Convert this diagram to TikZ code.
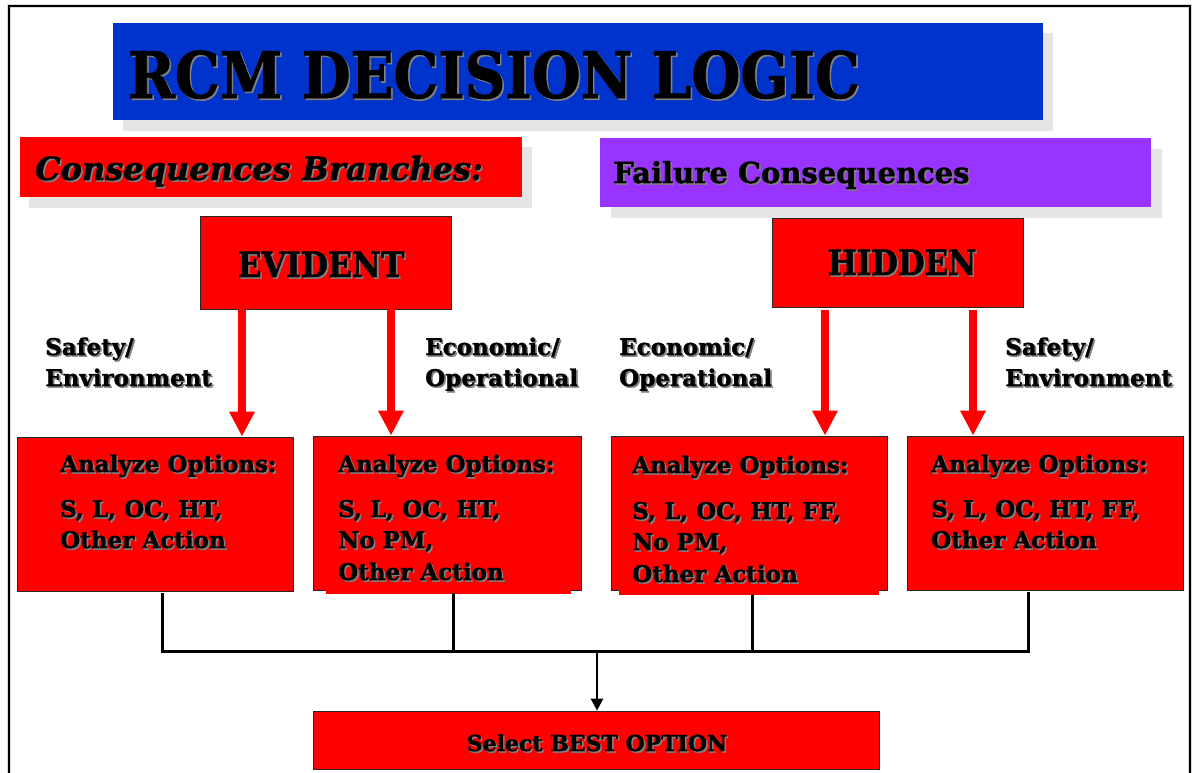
\documentclass[tikz,border=0pt]{standalone}
\usepackage{fontspec}
\setmainfont{DejaVu Serif}[BoldFeatures={FakeBold=1.3},BoldItalicFeatures={FakeBold=1.3}]
\usetikzlibrary{arrows.meta,calc}

\definecolor{titleblue}{RGB}{0,51,204}
\definecolor{boxred}{RGB}{255,0,0}
\definecolor{failpurple}{RGB}{153,51,255}
\definecolor{dropgray}{RGB}{229,229,229}

\tikzset{
  txt/.style={inner sep=0pt, anchor=base west, font=\bfseries\fontsize{23}{27}\selectfont},
  banner/.style={inner sep=0pt, draw=none},
  redbox/.style={draw=black!85, line width=0.8pt, fill=boxred, inner sep=0pt},
  redarrow/.style={draw=boxred, line width=8pt, -{Triangle[width=24pt,length=25pt]}},
  conn/.style={draw=black, line width=3pt},
  connarrow/.style={draw=black, line width=2.5pt, -{Triangle[width=12pt,length=12pt]}},
}

% text with a soft drop shadow: name, options, position, text
\newcommand\shtext[4]{%
  \node[#2, text=black!50, xshift=1.6pt, yshift=-1.6pt] (#1-shade) at (#3) {#4};
  \node[#2] (#1) at (#3) {#4};%
}

\begin{document}
\begin{tikzpicture}[x=1pt, y=-1pt]
  \useasboundingbox (0,0) rectangle (1193,772);
  \begin{scope}
    \clip (0,0) rectangle (1193,772);
    % page frame
    \draw[black!15, line width=4pt] (9,6) rectangle (1190,800);
    \draw[black, line width=2pt] (9,6) rectangle (1190,800);

    % title banner
    \fill[dropgray] (123,33) rectangle (1053,131);
    \node[banner, fill=titleblue, minimum width=930pt, minimum height=97pt] (title) at (578,71.5) {};
    \shtext{titletext}{txt, font=\bfseries\fontsize{64}{70}\selectfont}{128,98}{\scalebox{0.88}[1]{RCM DECISION LOGIC}}

    % section banners
    \fill[dropgray] (29,147) rectangle (532,208);
    \node[banner, fill=boxred, minimum width=502pt, minimum height=60pt] (branches) at (271,167) {};
    \shtext{branchestext}{txt, font=\bfseries\itshape\fontsize{32}{36}\selectfont}{35,180}{Consequences Branches:}

    \fill[dropgray] (611,149) rectangle (1162,218);
    \node[banner, fill=failpurple, minimum width=551pt, minimum height=69pt] (failure) at (875.5,172.5) {};
    \shtext{failuretext}{txt, font=\bfseries\fontsize{29}{33}\selectfont}{613,183}{Failure Consequences}

    % branch boxes
    \node[redbox, minimum width=251pt, minimum height=93pt] (ev) at (325.5,262.5) {};
    \shtext{evtext}{txt, anchor=base, font=\bfseries\fontsize{35}{39}\selectfont}{321,277}{\scalebox{0.9}[1]{EVIDENT}}
    \node[redbox, minimum width=251pt, minimum height=89pt] (hid) at (897.5,262.5) {};
    \shtext{hidtext}{txt, anchor=base, font=\bfseries\fontsize{35}{39}\selectfont}{902,275}{\scalebox{0.88}[1]{HIDDEN}}

    % consequence labels
    \shtext{l1a}{txt}{45,355}{Safety/}
    \shtext{l1b}{txt}{45,386}{Environment}
    \shtext{l2a}{txt}{425,355}{Economic/}
    \shtext{l2b}{txt}{425,386}{Operational}
    \shtext{l3a}{txt}{619,355}{Economic/}
    \shtext{l3b}{txt}{619,386}{Operational}
    \shtext{l4a}{txt}{1005,355}{Safety/}
    \shtext{l4b}{txt}{1005,386}{Environment}

    % option boxes
    \node[redbox, minimum width=276pt, minimum height=154pt] (b1) at (155,514) {};
    \node[redbox, minimum width=268pt, minimum height=154pt] (b2) at (447,513) {};
    \node[redbox, minimum width=276pt, minimum height=154pt] (b3) at (749,513) {};
    \node[redbox, minimum width=276pt, minimum height=154pt] (b4) at (1045,513) {};
    \fill[boxred] (326,586) rectangle (571,594);
    \fill[boxred] (619,586) rectangle (879,595);

    \shtext{b1a}{txt}{60,472}{Analyze Options:}
    \shtext{b1b}{txt}{60,517}{S, L, OC, HT,}
    \shtext{b1c}{txt}{60,548}{Other Action}

    \shtext{b2a}{txt}{338,472}{Analyze Options:}
    \shtext{b2b}{txt}{338,517}{S, L, OC, HT,}
    \shtext{b2c}{txt}{338,548}{No PM,}
    \shtext{b2d}{txt}{338,580}{Other Action}

    \shtext{b3a}{txt}{632,473}{Analyze Options:}
    \shtext{b3b}{txt}{632,519}{S, L, OC, HT, FF,}
    \shtext{b3c}{txt}{632,550}{No PM,}
    \shtext{b3d}{txt}{632,582}{Other Action}

    \shtext{b4a}{txt}{931,472}{Analyze Options:}
    \shtext{b4b}{txt}{931,517}{S, L, OC, HT, FF,}
    \shtext{b4c}{txt}{931,548}{Other Action}

    % final box
    \node[redbox, minimum width=566pt, minimum height=58pt] (best) at (596,740) {};
    \shtext{besttext}{txt, anchor=base, font=\bfseries\fontsize{22}{26}\selectfont}{597,751}{Select BEST OPTION}

    % red branch arrows
    \draw[redarrow] ([xshift=-83.5pt]ev.south) -- ([xshift=-83.5pt]ev.south |- b1.north);
    \draw[redarrow] ([xshift=65.5pt]ev.south) -- ([xshift=65.5pt]ev.south |- b2.north);
    \draw[redarrow] ([xshift=-72.5pt,yshift=-3pt]hid.south) -- ([xshift=-72.5pt]hid.south |- b3.north);
    \draw[redarrow] ([xshift=75.5pt,yshift=-3pt]hid.south) -- ([xshift=75.5pt]hid.south |- b4.north);

    % collecting bus
    \coordinate (bus) at (597,651);
    \draw[conn] ([xshift=7pt,yshift=-2pt]b1.south) |- (bus) -| ([xshift=-17pt,yshift=-2pt]b4.south);
    \draw[conn] ([xshift=6pt,yshift=-3pt]b2.south) -- ([xshift=6pt]b2.south |- bus);
    \draw[conn] ([xshift=3pt,yshift=-4pt]b3.south) -- ([xshift=3pt]b3.south |- bus);
    \draw[connarrow] (bus) -- (bus |- best.north);
  \end{scope}
\end{tikzpicture}
\end{document}
